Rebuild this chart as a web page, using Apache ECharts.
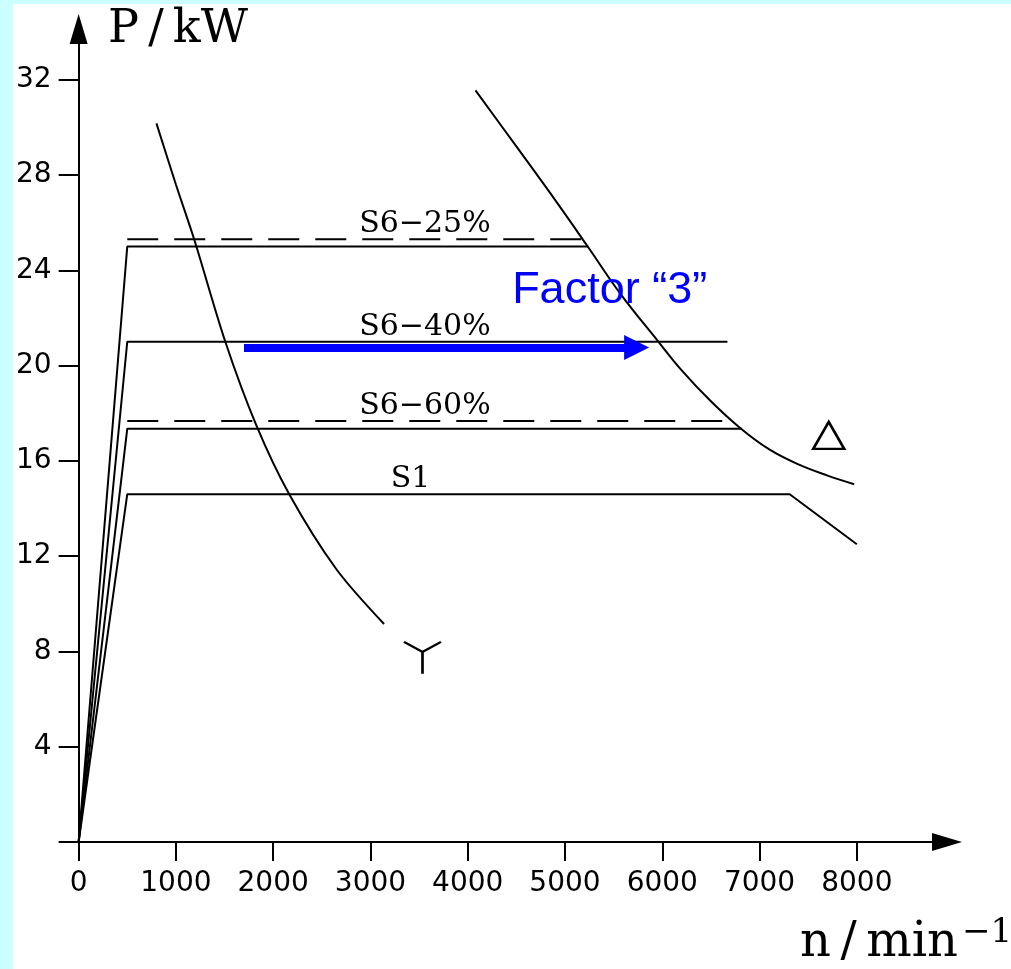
<!DOCTYPE html>
<html><head><meta charset="utf-8">
<script src="https://cdn.jsdelivr.net/npm/echarts@6.0.0/dist/echarts.min.js"></script>
<style>
html,body{margin:0;padding:0;background:#ccffff;width:1011px;height:969px;overflow:hidden}
#chart{position:absolute;left:13px;top:4px;width:998px;height:965px;background:#fff}
</style></head><body><div id="chart"></div>
<script>
// ---- tick values ----
const xTickValues = [0, 1000, 2000, 3000, 4000, 5000, 6000, 7000, 8000];
const yTickValues = [0, 4, 8, 12, 16, 20, 24, 28, 32];
const yLabelValues = [4, 8, 12, 16, 20, 24, 28, 32];
const xAxisMax = 8927;
const yAxisMax = 34.13;

// ---- characteristic lines (n in 1/min, P in kW) ----
const s6_25 = [[0, 0], [500, 25], [5240, 25]];
const s6_25Dashed = [[500, 25.3], [5190, 25.3]];
const s6_40 = [[0, 0], [500, 21], [6670, 21]];
const s6_60 = [[0, 0], [500, 17.35], [6820, 17.35]];
const s6_60Dashed = [[500, 17.67], [6720, 17.67]];
const s1 = [[0, 0], [500, 14.6], [7310, 14.6], [8000, 12.5]];

// star (Y) limit curve and delta limit curve
const starCurve = [[800, 30.17], [1000, 27.6], [1190, 25.27], [1508, 21.0], [1826, 17.5], [2165, 14.6], [2650, 11.45], [3140, 9.15]];
const deltaCurve = [[4080, 31.55], [4500, 29.2], [4925, 26.8], [5223, 25.06], [5572, 23.0], [5961, 21.0], [6200, 19.8], [6500, 18.5], [6800, 17.38], [7100, 16.48], [7400, 15.85], [7700, 15.38], [7973, 15.02]];

// factor arrow
const factorArrowStart = [1700, 20.76];
const factorArrowEnd = [5736, 20.76];
const factorText = 'Factor \u201C3\u201D';
const factorTextPos = [5459, 23.13];

// curve labels
const curveLabelTexts = ['S6\u221225%', 'S6\u221240%', 'S6\u221260%', 'S1'];
const curveLabelPos = [[3560, 25.3], [3560, 21], [3560, 17.67], [3412, 14.6]];

// connection symbols
const starSymbolPos = [3535, 7.73];
const deltaSymbolPos = [7711, 17.07];

const chart = echarts.init(document.getElementById('chart'), null, {renderer: 'canvas'});

function curve(name, data, extra) {
  return Object.assign({
    type: 'line', name: name, data: data, symbol: 'none', silent: true,
    lineStyle: {color: '#000', width: 2}, z: 3
  }, extra || {});
}

const option = {
  animation: false,
  backgroundColor: '#fff',
  grid: {left: 64, right: 64, top: 25, bottom: 127, containLabel: false},
  xAxis: {
    type: 'value', min: 0, max: xAxisMax,
    axisLine: {show: true, onZero: false, lineStyle: {color: '#000', width: 2},
      symbol: ['none', 'triangle'], symbolSize: [18, 30]},
    axisTick: {show: true, length: 19, lineStyle: {color: '#000', width: 2}, customValues: xTickValues},
    axisLabel: {show: true, margin: 28, color: '#000', fontFamily: 'DejaVu Sans', fontSize: 28,
      customValues: xTickValues, formatter: v => String(v)},
    splitLine: {show: false}
  },
  yAxis: {
    type: 'value', min: 0, max: yAxisMax,
    axisLine: {show: true, onZero: false, lineStyle: {color: '#000', width: 2},
      symbol: ['none', 'triangle'], symbolSize: [18, 30]},
    axisTick: {show: true, length: 20, lineStyle: {color: '#000', width: 2}, customValues: yTickValues},
    axisLabel: {show: true, margin: 27, color: '#000', fontFamily: 'DejaVu Sans', fontSize: 28,
      customValues: yLabelValues, formatter: v => String(v)},
    splitLine: {show: false}
  },
  graphic: [
    {type: 'text', x: 95, y: 26, style: {text: 'P\u2009/\u2009kW', font: '46px "DejaVu Serif"', fill: '#000', align: 'left', verticalAlign: 'middle'}},
    {type: 'text', x: 945, y: 940, style: {text: 'n\u2009/\u2009min', font: '48px "DejaVu Serif"', fill: '#000', align: 'right', verticalAlign: 'middle'}},
    {type: 'text', x: 949, y: 929, style: {text: '\u22121', font: '34px "DejaVu Serif"', fill: '#000', align: 'left', verticalAlign: 'middle'}}
  ],
  series: [
    curve('S6-25%', s6_25),
    curve('S6-25% dashed', s6_25Dashed, {lineStyle: {color: '#000', width: 2, type: [31, 16]}}),
    curve('S6-40%', s6_40),
    curve('S6-60%', s6_60),
    curve('S6-60% dashed', s6_60Dashed, {lineStyle: {color: '#000', width: 2, type: [31, 16]}}),
    curve('S1', s1),
    curve('Y limit', starCurve, {smooth: 0.3}),
    curve('Delta limit', deltaCurve, {smooth: 0.4}),
    {
      type: 'line', name: 'Factor arrow', data: [], silent: true, z: 5,
      markLine: {
        silent: true, animation: false,
        symbol: ['none', 'triangle'], symbolSize: [25, 25],
        lineStyle: {color: '#0000ff', width: 8, type: 'solid', opacity: 1},
        itemStyle: {color: '#0000ff'},
        label: {show: false},
        data: [[{coord: factorArrowStart}, {coord: factorArrowEnd}]]
      }
    },
    {
      type: 'scatter', name: 'curve labels', silent: true, symbolSize: 0, z: 6,
      itemStyle: {opacity: 1},
      data: curveLabelPos.map((p, i) => ({value: p, name: curveLabelTexts[i]})),
      label: {show: true, position: 'top', distance: 0, formatter: '{b}', color: '#000', opacity: 1, fontFamily: 'DejaVu Serif', fontSize: 30}
    },
    {
      type: 'scatter', name: 'factor label', silent: true, symbolSize: 0, z: 6,
      itemStyle: {opacity: 1},
      data: [{value: factorTextPos, name: factorText}],
      label: {show: true, position: 'inside', formatter: '{b}', color: '#0000ff', opacity: 1, fontFamily: 'Liberation Sans', fontSize: 45}
    },
    {
      type: 'scatter', name: 'delta symbol', silent: true, z: 6,
      symbol: 'triangle', symbolSize: [31, 27],
      itemStyle: {color: '#fff', borderColor: '#000', borderWidth: 2.5, opacity: 1},
      data: [deltaSymbolPos]
    },
    {
      type: 'scatter', name: 'star symbol', silent: true, z: 6,
      symbol: 'path://M0,0L18,10L36,0M18,10L18,32', symbolSize: [37, 32],
      itemStyle: {color: 'rgba(0,0,0,0)', borderColor: '#000', borderWidth: 2.5, opacity: 1},
      data: [starSymbolPos]
    }
  ]
};
chart.setOption(option);
</script>
</body></html>
